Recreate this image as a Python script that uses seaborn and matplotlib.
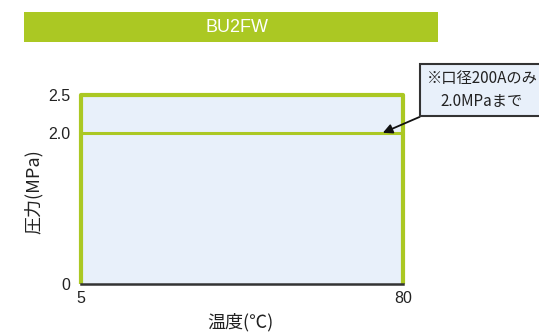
import matplotlib
matplotlib.use("Agg")
import matplotlib.pyplot as plt
import seaborn as sns
import pandas as pd
from matplotlib.patches import Rectangle

sns.set_theme(style="white")
plt.rcParams['font.family'] = ['Liberation Sans', 'Noto Sans CJK JP', 'DejaVu Sans']

# Data
temps = [5, 80]
pressure_limit = [2.0, 2.0]
y_max = 2.5
x_ticks = [5, 80]
y_ticks = [0, 2.0, 2.5]
y_tick_labels = ["0", "2.0", "2.5"]
title = "BU2FW"
note = "※口径200Aのみ\n2.0MPaまで"
note_x = 75.3
note_y = 2.0

GREEN = "#abc823"
FILL = "#e8f0fa"
TXT = "#222222"
JP = ['Noto Sans CJK JP', 'DejaVu Sans']

fig = plt.figure(figsize=(5.39, 3.33), dpi=100)
ax = fig.add_axes([81/539, 1-284/333, 322/539, 189/333])

# filled region
ax.fill_between(temps, [0, 0], [y_max, y_max], color=FILL, zorder=1)
df = pd.DataFrame({"temp": temps, "p": pressure_limit})
sns.lineplot(data=df, x="temp", y="p", color=GREEN, linewidth=2.2, ax=ax, zorder=3)
# border
ax.plot([temps[0], temps[0], temps[1], temps[1]], [0, y_max, y_max, 0], color=GREEN,
        linewidth=3, zorder=3, solid_capstyle='butt', clip_on=False)

ax.set_xlim(temps[0], temps[1])
ax.set_ylim(0, y_max)
ax.set_xticks(x_ticks)
ax.set_xticklabels([str(t) for t in x_ticks], fontsize=11.5, color=TXT)
ax.set_yticks(y_ticks)
ax.set_yticklabels(y_tick_labels, fontsize=11.5, color=TXT)
ax.tick_params(axis='y', length=0, pad=8)
ax.tick_params(axis='x', length=0, pad=5)
for s in ["top", "right", "left"]:
    ax.spines[s].set_visible(False)
ax.spines["bottom"].set_color("#333333")
ax.spines["bottom"].set_linewidth(1.8)
ax.spines["bottom"].set_zorder(4)
ax.set_xlabel("")
ax.set_ylabel("")

fig.text(240/539, 1-322/333, "温度(℃)", fontsize=13, color=TXT, ha="center", va="center",
         family=JP)
fig.text(34/539, 1-192/333, "圧力(MPa)", fontsize=13, color=TXT, ha="center", va="center",
         rotation=90, family=JP)

# title bar
fig.patches.append(Rectangle((24/539, 1-42/333), 414/539, 30/333, transform=fig.transFigure,
                             facecolor=GREEN, edgecolor="none", figure=fig))
fig.text(237/539, 1-27/333, title, color="white", fontsize=13, ha="center", va="center")

# annotation
ax.annotate(note, xy=(note_x, note_y), xycoords='data',
            xytext=(482/539, 1-90/333), textcoords='figure fraction',
            ha="center", va="center", fontsize=11, color=TXT,
            family=JP, linespacing=1.5,
            bbox=dict(boxstyle="square,pad=0.4", facecolor=FILL, edgecolor="#333333", linewidth=1.5),
            arrowprops=dict(arrowstyle="-|>", color="#111111", lw=1.3, mutation_scale=14,
                            shrinkA=0, shrinkB=0),
            annotation_clip=False, zorder=6)

fig.savefig("out.png", dpi=100)
